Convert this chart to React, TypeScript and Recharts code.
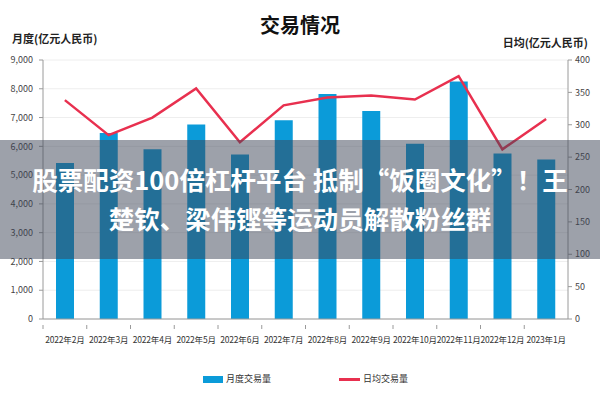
import React from "react";
import { ComposedChart, Bar, Line, XAxis, YAxis, CartesianGrid } from "recharts";

const months = ["2022年2月", "2022年3月", "2022年4月", "2022年5月", "2022年6月", "2022年7月", "2022年8月", "2022年9月", "2022年10月", "2022年11月", "2022年12月", "2023年1月"];
const monthlyVolume = [5420, 6460, 5900, 6760, 5720, 6910, 7820, 7230, 6090, 8250, 5750, 5545];
const dailyVolume = [338, 284, 311, 356, 273, 330, 342, 345, 339, 375, 262, 309];
const leftTicks = [0, 1000, 2000, 3000, 4000, 5000, 6000, 7000, 8000, 9000];
const rightTicks = [0, 50, 100, 150, 200, 250, 300, 350, 400];

const data = months.map((m, i) => ({ month: m, monthly: monthlyVolume[i], daily: dailyVolume[i] }));

const FONT = '"Noto Sans CJK SC", "Noto Sans", sans-serif';
const BLUE = "#0b9bd9";
const RED = "#e8304f";
const AXIS = "#9a9a9a";

const XTick = (props: any) => {
  const { x, y, payload } = props;
  const off = payload && payload.offset ? payload.offset : 0;
  return (
    <g>
      <line x1={x - off} x2={x - off} y1={y} y2={y + 4} stroke={AXIS} strokeWidth={1} />
      <text x={x} y={y + 18} textAnchor="middle" fontSize={8.5} letterSpacing={-0.2} fill="#333" fontFamily={FONT}>
        {payload.value}
      </text>
    </g>
  );
};

export default function App() {
  return (
    <div style={{ position: "absolute", left: 0, top: 0, width: 600, height: 400, background: "#fff", fontFamily: FONT, overflow: "hidden" }}>
      <div style={{ position: "absolute", left: 0, top: 11, width: 600, textAlign: "center", fontSize: 20, fontWeight: 700, color: "#111", lineHeight: "28px" }}>
        交易情况
      </div>
      <div style={{ position: "absolute", left: 12, top: 30, fontSize: 11, fontWeight: 700, color: "#222", lineHeight: "16px" }}>
        月度(亿元人民币)
      </div>
      <div style={{ position: "absolute", right: 12, top: 34, fontSize: 11, fontWeight: 700, color: "#222", lineHeight: "16px" }}>
        日均(亿元人民币)
      </div>
      <ComposedChart width={600} height={400} data={data} margin={{ top: 60, right: 0, bottom: 51, left: 0 }}>
        <CartesianGrid horizontal={true} vertical={false} stroke="#eeeeee" yAxisId="left" />
        <XAxis
          dataKey="month"
          height={30}
          interval={0}
          tick={<XTick />}
          tickLine={false}
          tickMargin={0}
          axisLine={{ stroke: AXIS }}
        />
        <YAxis
          yAxisId="left"
          orientation="left"
          width={43}
          domain={[0, 9000]}
          ticks={leftTicks}
          tickFormatter={(v: number) => v.toLocaleString("en-US")}
          tick={{ fontSize: 9, fill: "#444", fontFamily: FONT }}
          tickSize={4}
          tickMargin={6}
          tickLine={{ stroke: AXIS }}
          axisLine={{ stroke: AXIS }}
        />
        <YAxis
          yAxisId="right"
          orientation="right"
          width={32}
          domain={[0, 400]}
          ticks={rightTicks}
          tick={{ fontSize: 9, fill: "#444", fontFamily: FONT }}
          tickSize={4}
          tickMargin={3}
          tickLine={{ stroke: AXIS }}
          axisLine={{ stroke: AXIS }}
        />
        <Bar yAxisId="left" dataKey="monthly" name="月度交易量" fill={BLUE} barSize={18} isAnimationActive={false} />
        <Line yAxisId="right" dataKey="daily" name="日均交易量" type="linear" stroke={RED} strokeWidth={2.5} dot={false} isAnimationActive={false} />
      </ComposedChart>
      <div style={{ position: "absolute", left: 0, top: 370, width: 600, height: 20, fontSize: 9, color: "#333" }}>
        <div style={{ position: "absolute", left: 203, top: 6, width: 20, height: 7, background: BLUE }} />
        <div style={{ position: "absolute", left: 226, top: 2, lineHeight: "14px" }}>月度交易量</div>
        <div style={{ position: "absolute", left: 339, top: 8, width: 21, height: 2.5, background: RED }} />
        <div style={{ position: "absolute", left: 363, top: 2, lineHeight: "14px" }}>日均交易量</div>
      </div>
      <div style={{ position: "absolute", left: 0, top: 140, width: 600, height: 119, background: "rgba(60,68,85,0.5)" }} />
      <div style={{ position: "absolute", left: 0, top: 159, width: 600, textAlign: "center", color: "#fff", fontWeight: 700, fontSize: 25.5, lineHeight: "39px", whiteSpace: "nowrap" }}>
        <div>股票配资100倍杠杆平台 抵制“饭圈文化”！王</div>
        <div>楚钦、梁伟铿等运动员解散粉丝群</div>
      </div>
    </div>
  );
}
